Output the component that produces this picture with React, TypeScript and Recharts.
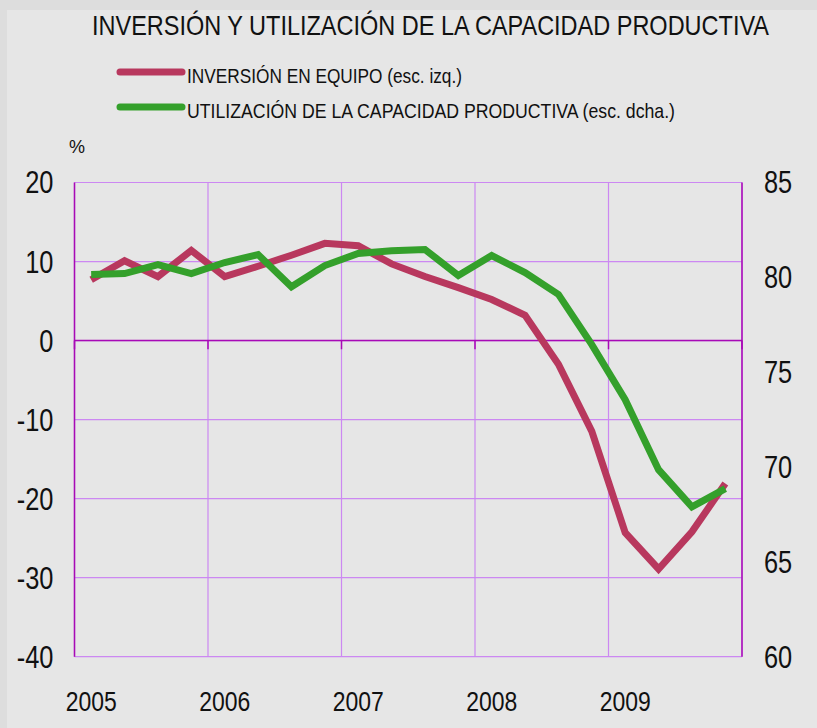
import React from 'react';
import { CartesianGrid, Line, LineChart, ReferenceLine, XAxis, YAxis } from 'recharts';

// quarterly series, 2005 Q1 - 2009 Q4
const years = ['2005', '2006', '2007', '2008', '2009'];
const quarters = ['I', 'II', 'III', 'IV'];
const categories = years.flatMap((y) => quarters.map((q) => `${q} ${y}`));

// inversion en equipo, % (left scale)
const inversion = [
  7.7, 10.1, 8.1, 11.4, 8.1, 9.4, 10.8, 12.3, 12.0, 9.7, 8.1, 6.7, 5.2, 3.2, -3.0, -11.5, -24.3, -28.9, -24.2,
  -18.1,
];
// utilizacion de la capacidad productiva (right scale)
const utilizacion = [
  80.15, 80.2, 80.67, 80.2, 80.78, 81.2, 79.5, 80.62, 81.26, 81.4, 81.47, 80.1, 81.15, 80.25, 79.1, 76.45, 73.55,
  69.86, 67.9, 68.86,
];

const leftTicks = [-40, -30, -20, -10, 0, 10, 20];
const rightTicks = [60, 65, 70, 75, 80, 85];
const yearStarts = [0, 4, 8, 12, 16, 20];
const yearLabelPos = [0.5, 4.5, 8.5, 12.5, 16.5];

const data = categories.map((name, i) => ({
  name,
  x: i + 0.5,
  inversion: inversion[i],
  utilizacion: utilizacion[i],
}));

const RED = '#B8385E';
const GREEN = '#34A02B';
const GRID = '#CC88F2';
const AXIS = '#A80AB5';
const FONT = "'Liberation Sans', Arial, sans-serif";
const NARROW = 0.82;

const legendItems = [
  { label: 'INVERSIÓN EN EQUIPO (esc. izq.)', color: RED, y: 72, width: 275 },
  { label: 'UTILIZACIÓN DE LA CAPACIDAD PRODUCTIVA (esc. dcha.)', color: GREEN, y: 107, width: 488 },
];

// narrow tick text (Helvetica Narrow look)
const NarrowTick = (props: any) => {
  const { x, y, payload, textAnchor, fontSize, dy, formatter } = props;
  const label = formatter ? formatter(payload.value) : payload.value;
  return (
    <text
      x={x}
      y={y}
      dy={dy}
      textAnchor={textAnchor}
      fontSize={fontSize}
      fontFamily={FONT}
      fill="#111"
      transform={`translate(${x} ${y}) scale(${NARROW} 1) translate(${-x} ${-y})`}
    >
      {label}
    </text>
  );
};

const App: React.FC = () => {
  return (
    <div
      style={{
        position: 'absolute',
        left: 0,
        top: 0,
        width: 817,
        height: 728,
        background: '#DDDDDD',
      }}
    >
      <div style={{ position: 'absolute', left: 7, top: 10, right: 0, bottom: 0, background: '#E6E6E6' }} />
      <svg width={817} height={728} style={{ position: 'absolute', left: 0, top: 0 }} fontFamily={FONT} fill="#111">
        <text x={92} y={35.4} fontSize={28} textLength={677} lengthAdjust="spacingAndGlyphs">
          INVERSIÓN Y UTILIZACIÓN DE LA CAPACIDAD PRODUCTIVA
        </text>
        {legendItems.map((item) => (
          <g key={item.label}>
            <line x1={120} x2={182} y1={item.y} y2={item.y} stroke={item.color} strokeWidth={7} strokeLinecap="round" />
            <text
              x={187}
              y={item.y + 11.3}
              fontSize={21}
              textLength={item.width}
              lengthAdjust="spacingAndGlyphs"
            >
              {item.label}
            </text>
          </g>
        ))}
        <text x={69} y={153} fontSize={18}>
          %
        </text>
      </svg>
      <div style={{ position: 'absolute', left: 0, top: 0 }}>
        <LineChart width={817} height={728} data={data} margin={{ top: 182.5, right: 0, bottom: 0, left: 0 }}>
          <XAxis xAxisId="grid" dataKey="x" type="number" domain={[0, 20]} ticks={yearStarts} height={0} hide />
          <XAxis
            xAxisId="lab"
            dataKey="x"
            type="number"
            domain={[0, 20]}
            ticks={yearLabelPos}
            axisLine={false}
            tickLine={false}
            tickSize={0}
            tickMargin={34}
            height={71.3}
            interval={0}
            tick={<NarrowTick fontSize={28} dy="0.71em" formatter={(v: number) => years[Math.floor(v / 4)]} />}
          />
          <YAxis
            yAxisId="left"
            domain={[-40, 20]}
            ticks={leftTicks}
            interval={0}
            width={74.5}
            axisLine={{ stroke: AXIS, strokeWidth: 1.5 }}
            tickLine={false}
            tickSize={0}
            tickMargin={21}
            tick={<NarrowTick fontSize={31} dy="0.355em" />}
          />
          <YAxis
            yAxisId="right"
            orientation="right"
            domain={[60, 85]}
            ticks={rightTicks}
            interval={0}
            width={75}
            axisLine={{ stroke: AXIS, strokeWidth: 1.5 }}
            tickLine={false}
            tickSize={0}
            tickMargin={22}
            tick={<NarrowTick fontSize={31} dy="0.355em" />}
          />
          <CartesianGrid xAxisId="grid" yAxisId="left" stroke={GRID} strokeWidth={1.2} />
          <ReferenceLine xAxisId="grid" yAxisId="left" y={0} stroke={AXIS} strokeWidth={1.5} />
          {yearStarts.map((t) => (
            <ReferenceLine
              key={t}
              xAxisId="grid"
              yAxisId="left"
              segment={[
                { x: t, y: 0 },
                { x: t, y: -1.1 },
              ]}
              stroke={AXIS}
              strokeWidth={1.5}
            />
          ))}
          <Line
            xAxisId="grid"
            yAxisId="left"
            type="linear"
            dataKey="inversion"
            stroke={RED}
            strokeWidth={7}
            dot={false}
            isAnimationActive={false}
          />
          <Line
            xAxisId="grid"
            yAxisId="right"
            type="linear"
            dataKey="utilizacion"
            stroke={GREEN}
            strokeWidth={7}
            dot={false}
            isAnimationActive={false}
          />
        </LineChart>
      </div>
    </div>
  );
};

export default App;
